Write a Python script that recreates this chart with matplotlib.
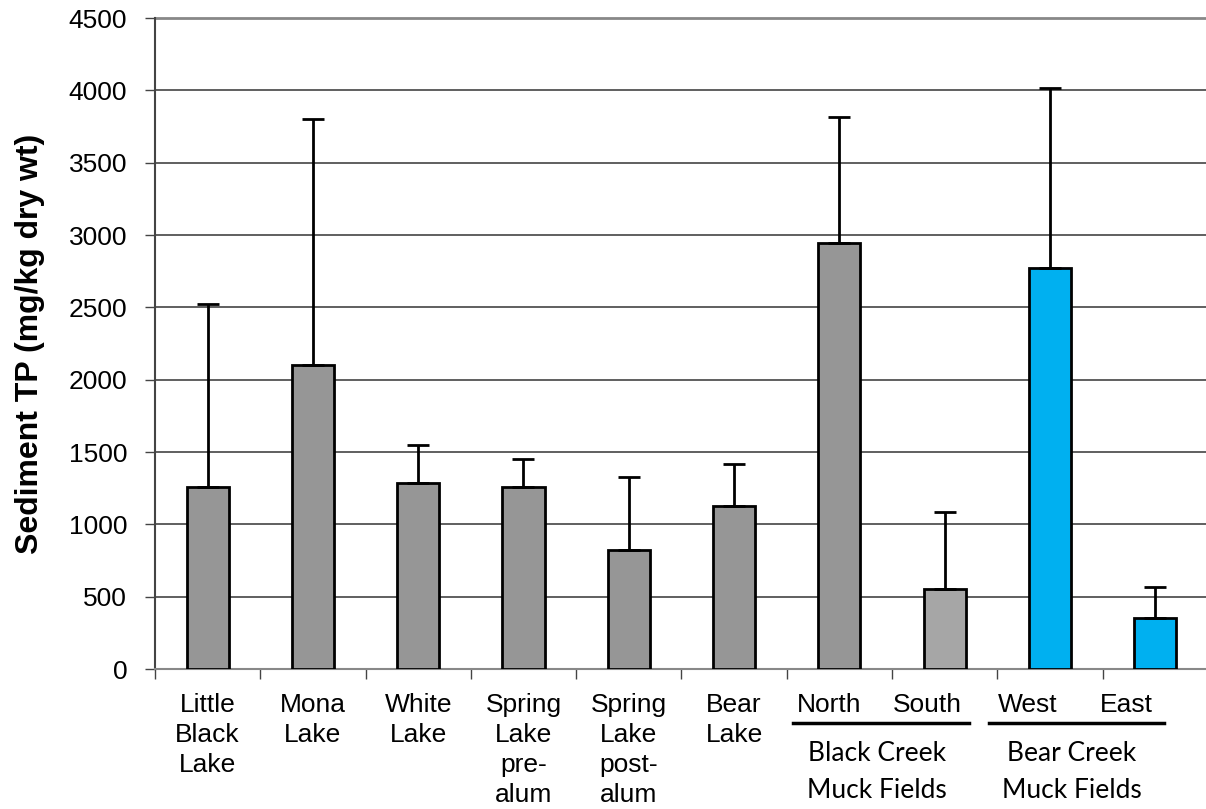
import matplotlib
matplotlib.use('Agg')
from matplotlib import pyplot as plt
from matplotlib.transforms import blended_transform_factory

# data
labels = ['Little\nBlack\nLake', 'Mona\nLake', 'White\nLake', 'Spring\nLake\npre-\nalum',
          'Spring\nLake\npost-\nalum', 'Bear\nLake', 'North', 'South', 'West', 'East']
values = [1258, 2100, 1285, 1255, 820, 1125, 2945, 555, 2770, 350]
err_top = [2520, 3800, 1550, 1455, 1325, 1415, 3815, 1088, 4015, 567]
colors = ['#969696'] * 7 + ['#a6a6a6'] + ['#00b0f0'] * 2
label_shift = [0, 0, 0, 0, 0, 0, -0.1, -0.16, -0.21, -0.27]

groups = ['Black Creek\nMuck Fields', 'Bear Creek\nMuck Fields']
group_span = [(5.56, 7.23), (7.42, 9.08)]

plt.rcParams['font.family'] = ['Liberation Sans', 'DejaVu Sans']

fig = plt.figure(figsize=(12.06, 8.09), dpi=100)
ax = fig.add_axes([0.1285, 0.173, 0.873, 0.8047])

x = list(range(len(values)))
errs = [t - v for t, v in zip(err_top, values)]
ax.bar(x, values, width=0.4, color=colors, edgecolor='black', linewidth=2, zorder=3)
ax.errorbar(x, values, yerr=[[0] * len(errs), errs], fmt='none', ecolor='black',
            elinewidth=2, capsize=8, capthick=2, zorder=4)

ax.set_xlim(-0.5, 9.5)
ax.set_ylim(0, 4500)
ax.set_yticks(range(0, 4501, 500))
ax.tick_params(axis='y', labelsize=19, length=7, color='#444444', width=1, pad=13)
ax.yaxis.grid(True, color='#444444', linewidth=1.2, zorder=0)
ax.set_axisbelow(True)

# boundary ticks and category labels
ax.set_xticks([i - 0.5 for i in range(11)])
ax.set_xticklabels([])
ax.set_xticks([i + s for i, s in zip(x, label_shift)], minor=True)
ax.set_xticklabels(labels, minor=True, fontsize=19, linespacing=1.33, va='top')
ax.tick_params(axis='x', which='major', length=7, color='#444444', width=1)
ax.tick_params(axis='x', which='minor', length=0, pad=17)

for side in ['top', 'right']:
    ax.spines[side].set_visible(False)
ax.spines['left'].set_color('#444444')
ax.spines['left'].set_linewidth(1.5)
ax.spines['bottom'].set_color('#888888')
ax.spines['bottom'].set_linewidth(1.5)
ax.axhline(4500, color='#888888', linewidth=2, zorder=1, clip_on=False)

ax.set_ylabel('Sediment TP (mg/kg dry wt)', fontsize=23, fontweight='bold', labelpad=17)

trans = blended_transform_factory(ax.transData, ax.transAxes)
for name, (x0, x1) in zip(groups, group_span):
    ax.plot([x0, x1], [-0.083, -0.083], color='black', linewidth=2.5,
            transform=trans, clip_on=False)
    ax.text((x0 + x1) / 2 - 0.04, -0.110, name, transform=trans, ha='center', va='top',
            fontsize=19, family=['Lato', 'DejaVu Sans'], linespacing=1.6)

fig.savefig('out.png', dpi=100)
